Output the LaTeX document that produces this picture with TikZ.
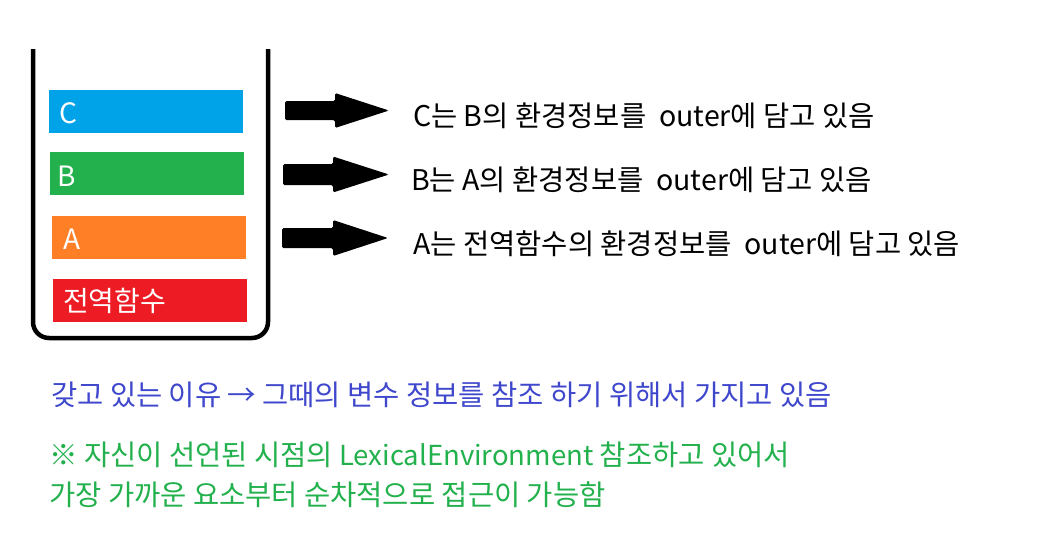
\documentclass[tikz,border=0pt]{standalone}
\usepackage{fontspec}
\setmainfont{Noto Sans CJK KR}
\definecolor{cC}{HTML}{00A2E8}
\definecolor{cB}{HTML}{22B14C}
\definecolor{cA}{HTML}{FF7F27}
\definecolor{cG}{HTML}{ED1C24}
\definecolor{tblue}{HTML}{3F48CC}
\definecolor{tgreen}{HTML}{22B14C}
\newcommand\blockarr[7]{%
  \coordinate (#1) at (#2,#5);
  \fill[black, rounded corners=1.5pt]
    (#2,#5-#6) -- (#3,#5-#6) -- (#3,#5-#7) -- (#4,#5)
    -- (#3,#5+#7) -- (#3,#5+#6) -- (#2,#5+#6) -- cycle;}
\begin{document}
\begin{tikzpicture}[x=1pt,y=-1pt,
  framebox/.style={inner sep=0pt, outer sep=0pt, anchor=north west,
    minimum width=194pt, minimum height=43pt},
  boxlabel/.style={text=white, anchor=base west, inner sep=0pt,
    font=\fontsize{28}{32}\selectfont},
  desc/.style={anchor=base west, inner sep=0pt,
    font=\fontsize{28.5}{33}\selectfont}]
\useasboundingbox[fill=white] (0,0) rectangle (1052,558);
% container
\draw[line width=4.5pt, rounded corners=16pt] (33,49) -- (33,338) -- (268,338) -- (268,49);
% boxes
\node[framebox, fill=cC] (boxC) at (49,90) {};
\node[framebox, fill=cB] (boxB) at (50,152) {};
\node[framebox, fill=cA] (boxA) at (52,216) {};
\node[framebox, fill=cG] (boxG) at (53,279) {};
\node[boxlabel] (labC) at (59,123) {C};
\node[boxlabel] (labB) at (57,186) {B};
\node[boxlabel] (labA) at (63,249) {A};
\node[boxlabel] (labG) at (63,311) {전역함수};
% arrows
\blockarr{arr1}{285}{335}{389}{110.5}{9.5}{17.5}
\blockarr{arr2}{283}{333}{389}{174.5}{10.5}{18}
\blockarr{arr3}{282}{333}{388}{238}{10}{18}
% descriptions
\node[desc] (t1) at (413,126) {C는 B의 환경정보를\ \ outer에 담고 있음};
\node[desc] (t2) at (411,190) {B는 A의 환경정보를\ \ outer에 담고 있음};
\node[desc] (t3) at (413,254) {A는 전역함수의 환경정보를\ \ outer에 담고 있음};
\node[desc, text=tblue] (n1) at (51,405) {갖고 있는 이유 → 그때의 변수 정보를 참조 하기 위해서 가지고 있음};
\node[desc, text=tgreen] (n2) at (49,465) {※ 자신이 선언된 시점의 {\fontsize{27.5}{33}\selectfont LexicalEnvironment} 참조하고 있어서};
\node[desc, text=tgreen] (n3) at (49,505) {가장 가까운 요소부터 순차적으로 접근이 가능함};
\end{tikzpicture}
\end{document}
